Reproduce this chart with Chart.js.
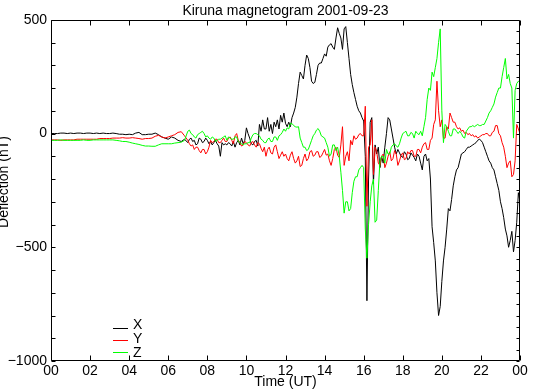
<!DOCTYPE html>
<html>
<head>
<meta charset="utf-8">
<title>Kiruna magnetogram 2001-09-23</title>
<script src="https://cdn.jsdelivr.net/npm/chart.js@4.4.1/dist/chart.umd.min.js"></script>
<style>
  html, body { margin: 0; padding: 0; background: #fff; }
  canvas { display: block; }
</style>
</head>
<body>
<canvas id="magChart" width="535" height="392"></canvas>
<script>
// sample times in minutes after 00 UT: 10 min steps while quiet, 5 min from 07 UT
var minutes = [];
var m;
for (m = 0; m < 420; m += 10) minutes.push(m);
for (m = 420; m <= 1440; m += 5) minutes.push(m);

// deflections in nT, one row per hour
var seriesX = [
    0, 0, 0, 2, 2, 0,
    2, 0, 2, 2, 0, 2,
    2, 0, 2, 0, 2, 0,
    0, 2, 0, -3, -3, -5,
    -3, -5, 2, 5, -5, -5,
    -3, -3, 2, -5, -15, -20,
    -25, -15, -20, -30, -35, -25,
    // 07 UT on, 5 min
    -40, -25, -20, -35, -30, -50, -45, -20, -25, -40, -35, -20,
    -30, -45, -35, -50, -40, -30, -45, -55, -100, -40, -50, -45,
    -50, -40, -45, -55, -35, -60, -40, -30, -50, -20, -45, -30,
    25, 0, -20, -45, -50, -35, -30, -55, 40, 10, 60, 20,
    20, 70, 10, 40, 0, 50, 30, 60, 20, 80, 50, 90,
    45, 30, 50, 30, 70, 90, 115, 160, 220, 270, 255, 240,
    300, 345, 330, 290, 230, 220, 225, 260, 300, 310, 310, 330,
    350, 340, 380, 390, 395, 380, 370, 420, 465, 440, 420, 370,
    460, 470, 400, 330, 260, 215, 180, 150, 120, 100, 90, 70,
    55, -100, -735, -200, 50, 70, -220, -50, -90, -60, -150, -100,
    -130, -60, 0, 70, 60, 20, -20, -60, -90, -70, -85, -100,
    -105, -80, -90, -115, -110, -85, -95, -105, -120, -90, -100, -130,
    -160, -100, -90, -120, -110, -200, -410, -480, -560, -700, -800, -760,
    -650, -560, -500, -420, -330, -340, -290, -230, -190, -160, -150, -120,
    -90, -85, -80, -70, -60, -60, -55, -50, -45, -40, -30, -25,
    -30, -40, -60, -80, -100, -120, -130, -150, -160, -190, -220, -250,
    -300, -330, -370, -420, -450, -500, -470, -430, -520, -470, -390, -260,
    -300
];
var seriesY = [
    -28, -28, -28, -30, -28, -28,
    -28, -28, -25, -25, -25, -25,
    -25, -25, -25, -22, -22, -22,
    -22, -20, -20, -20, -18, -20,
    -20, -18, -20, -22, -25, -22,
    -22, -20, -12, -8, -15, -20,
    -15, -10, -5, 5, 8, -10,
    // 07 UT on, 5 min
    -30, -45, -55, -50, -70, -60, -60, -75, -85, -70, -70, -90,
    -80, -60, -30, -40, -35, -25, -25, -40, -40, -30, -20, -35,
    -35, -20, -15, -30, -45, -10, 0, -30, -40, -55, -50, -35,
    -40, -50, -55, -40, -35, -50, -60, -40, -45, -65, -80, -60,
    -100, -70, -60, -85, -90, -60, -50, -80, -110, -95, -80, -100,
    -90, -110, -120, -95, -80, -110, -130, -120, -100, -145, -140, -110,
    -90, -120, -110, -80, -75, -100, -95, -80, -80, -105, -100, -85,
    -70, -95, -90, -120, -140, -110, -70, -60, -95, -105, -50, 30,
    -140, -100, -80, -120, -30, -50, -10, -25, -20, -5, 0, -10,
    -10, 120, -320, -60, -50, 60, -180, -60, -80, -130, -140, -100,
    -90, -150, -130, -100, -80, -120, -110, -75, -90, -140, -120, -95,
    -85, -115, -110, -80, -90, -75, -75, -100, -100, -70, -70, -85,
    -60, -45, -40, -70, -70, -30, -20, 40, 60, 230, 100, 30,
    60, -20, -20, 30, 20, 90, 70, 50, 50, 30, 20, 25,
    10, 15, 0, 5, -5, 0, -10, -5, -15, -10, -20, -15,
    -10, -5, -5, 0, 0, -10, -10, 5, 10, 35, 35, 0,
    -10, -40, -60, -100, -150, -130, -120, -190, -180, -120, 40, 20,
    0
];
var seriesZ = [
    -30, -30, -30, -28, -30, -30,
    -30, -30, -30, -30, -28, -30,
    -30, -28, -28, -28, -28, -28,
    -28, -28, -30, -32, -35, -35,
    -38, -42, -45, -48, -52, -55,
    -55, -56, -56, -50, -45, -45,
    -45, -45, -42, -40, -38, -30,
    // 07 UT on, 5 min
    10, 15, 0, -5, -15, -20, -5, 0, 5, 10, 0, -15,
    -10, -20, -25, -15, -20, -35, -30, -25, -25, -20, -15, -10,
    -30, -15, -20, -25, -25, -15, -15, -35, -40, -45, -50, -45,
    -45, -40, -40, -20, -5, 0, 0, -5, -10, -25, -30, -40,
    -40, -25, -20, -35, -35, -15, -15, -30, -10, -5, 5, 20,
    10, 25, 20, 44, 44, 35, 30, 28, 30, -20, -40, -60,
    -60, -75, -70, -50, -30, -10, 0, 15, 22, 10, -10, -15,
    -20, -40, -60, -100, -90, -50, -50, -75, -60, -100, -170, -250,
    -350, -300, -300, -340, -330, -260, -210, -190, -190, -160, -150, -140,
    -150, -420, -548, -400, -300, -230, -200, -390, -380, -250, -120, -100,
    -100, -130, -70, -90, -90, -60, -50, -45, -55, -60, -45, -20,
    0, 5, 10, -10, -10, 5, 0, -20, 10, 0, -5, 10,
    -10, 30, 70, 150, 200, 190, 270, 250, 290, 330, 400, 460,
    100, -40, 40, 30, 10, -10, -10, 20, 20, 10, 0, 10,
    0, -15, -20, 10, 20, 30, 30, 35, 30, 35, 40, 35,
    35, 40, 40, 55, 70, 90, 100, 115, 130, 160, 180, 200,
    200, 250, 290, 330, 240, 260, 220, 200, -20, 190, 220, 230,
    225
];

var seriesNames = ['X', 'Y', 'Z'];
var seriesColors = ['#000000', '#ff0000', '#00ff00'];

var FONT = 'Liberation Sans, Arial, Helvetica, sans-serif';

function toPoints(vals) {
    return vals.map(function (v, i) {
        return { x: minutes[i] / 60, y: v };
    });
}

// IDL style: closed frame, ticks pointing inwards, legend + y title drawn by hand
var plotDecor = {
    id: 'plotDecor',
    afterDraw: function (chart) {
        var ctx = chart.ctx;
        var a = chart.chartArea;
        var xs = chart.scales.x, ys = chart.scales.y;
        var L = Math.round(a.left) + 0.5, R = Math.round(a.right) - 0.5;
        var T = Math.round(a.top) + 0.5, B = Math.round(a.bottom) - 0.5;
        ctx.save();
        ctx.strokeStyle = '#000';
        ctx.lineWidth = 1;
        ctx.beginPath();
        ctx.rect(L, T, R - L, B - T);
        var h, v, p;
        for (h = 0; h <= 24; h += 2) {
            p = Math.round(xs.getPixelForValue(h)) + 0.5;
            ctx.moveTo(p, B); ctx.lineTo(p, B - 5);
            ctx.moveTo(p, T); ctx.lineTo(p, T + 5);
        }
        for (v = -1000; v <= 500; v += 100) {
            p = Math.round(ys.getPixelForValue(v)) + 0.5;
            ctx.moveTo(L, p); ctx.lineTo(L + 4, p);
        }
        for (v = -1000; v <= 500; v += 50) {
            p = Math.round(ys.getPixelForValue(v)) + 0.5;
            ctx.moveTo(R, p); ctx.lineTo(R - 3, p);
        }
        ctx.stroke();

        // y title, partly cut off at the left edge like the original
        ctx.fillStyle = '#000';
        ctx.font = '14px ' + FONT;
        ctx.save();
        ctx.translate(8, 182);
        ctx.rotate(-Math.PI / 2);
        ctx.textAlign = 'center';
        ctx.textBaseline = 'alphabetic';
        ctx.fillText('Deflection (nT)', 0, 0);
        ctx.restore();

        // legend
        var legendY = [328, 340, 352];
        chart.data.datasets.forEach(function (ds, i) {
            ctx.strokeStyle = ds.borderColor;
            ctx.beginPath();
            ctx.moveTo(113, legendY[i] + 0.5);
            ctx.lineTo(128, legendY[i] + 0.5);
            ctx.stroke();
            ctx.fillStyle = '#000';
            ctx.textAlign = 'left';
            ctx.textBaseline = 'alphabetic';
            ctx.fillText(ds.label, 133, legendY[i] + 1 + i * 2);
        });
        ctx.restore();
    }
};

var datasets = seriesNames.map(function (name, i) {
    return {
        label: name,
        data: toPoints([seriesX, seriesY, seriesZ][i]),
        borderColor: seriesColors[i],
        backgroundColor: seriesColors[i],
        borderWidth: 1,
        pointRadius: 0,
        tension: 0,
        fill: false,
        order: 2 - i
    };
});

var ctx = document.getElementById('magChart').getContext('2d');
new Chart(ctx, {
    type: 'line',
    data: { datasets: datasets },
    options: {
        responsive: false,
        animation: false,
        devicePixelRatio: 1,
        layout: { padding: { left: 0, right: 15, top: 0, bottom: 0 } },
        plugins: {
            legend: { display: false },
            tooltip: { enabled: false },
            title: {
                display: true,
                fullSize: false,
                text: 'Kiruna magnetogram 2001-09-23',
                color: '#000',
                font: { family: FONT, size: 14, weight: 'normal', lineHeight: 1.2 },
                padding: { top: 3, bottom: 0 }
            }
        },
        scales: {
            x: {
                type: 'linear',
                min: 0,
                max: 24,
                grid: { display: false, drawTicks: false },
                border: { display: false },
                ticks: {
                    stepSize: 2,
                    autoSkip: false,
                    maxRotation: 0,
                    padding: 2,
                    color: '#000',
                    font: { family: FONT, size: 14 },
                    callback: function (v) {
                        var hh = v % 24;
                        return (hh < 10 ? '0' : '') + hh;
                    }
                },
                title: {
                    display: true,
                    text: 'Time (UT)',
                    color: '#000',
                    font: { family: FONT, size: 14, lineHeight: 1 },
                    padding: { top: 0, bottom: 3 }
                },
                afterFit: function (scale) { scale.height = 31; }
            },
            y: {
                min: -1000,
                max: 500,
                grid: { display: false, drawTicks: false },
                border: { display: false },
                ticks: {
                    stepSize: 500,
                    padding: 4,
                    color: '#000',
                    font: { family: FONT, size: 14 },
                    callback: function (v) {
                        return v < 0 ? '\u2212' + Math.abs(v) : String(v);
                    }
                },
                afterFit: function (scale) { scale.width = 51; }
            }
        }
    },
    plugins: [plotDecor]
});
</script>
</body>
</html>
